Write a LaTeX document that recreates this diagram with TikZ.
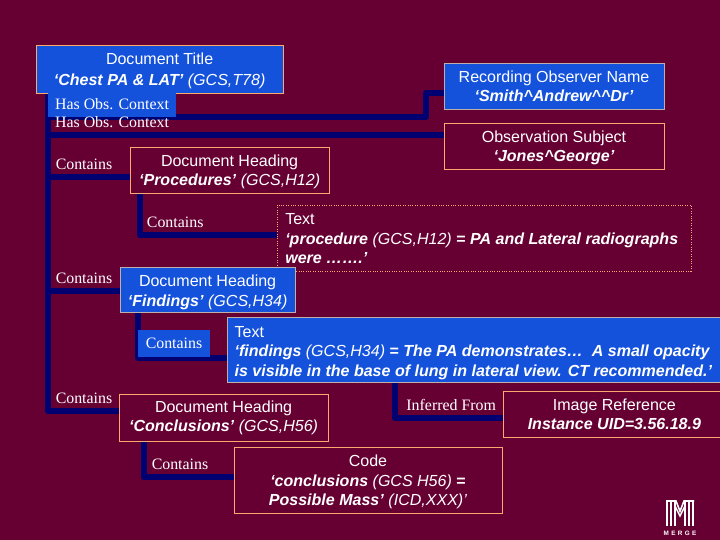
\documentclass[tikz,border=0pt]{standalone}
\usepackage{fontspec}
\setmainfont{Liberation Sans}
\newfontfamily\relfont{Liberation Serif}
\usetikzlibrary{backgrounds}
\definecolor{pagewine}{RGB}{102,0,51}
\definecolor{boxblue}{RGB}{20,82,220}
\definecolor{linknavy}{RGB}{0,0,112}
\definecolor{edgetan}{RGB}{250,170,110}
\definecolor{edgegrey}{RGB}{190,175,170}
\newcommand{\quoted}[1]{\textbf{\textit{#1}}}
\newcommand{\droptop}{\rule{0pt}{11pt}}
\tikzset{
  docbox/.style={draw=edgetan, line width=0.7pt, fill=pagewine, text=white, inner sep=0pt,
    align=center, font=\fontsize{11.4}{13.8}\selectfont},
  bluebox/.style={docbox, draw=edgegrey, fill=boxblue},
  textlines/.style={anchor=west, text=white, inner sep=0pt, align=left,
    font=\fontsize{11.4}{13.9}\selectfont},
  relname/.style={text=white, inner sep=0pt, font=\relfont\fontsize{11.3}{13}\selectfont},
  link/.style={draw=linknavy, line width=4.2pt, line join=round}
}

\begin{document}
\begin{tikzpicture}

% --- Background ---
\begin{scope}[on background layer]
\fill[pagewine] (0,0) rectangle (18,13.5);
\end{scope}
\useasboundingbox (0,0) rectangle (18,13.5);

% --- Boxes ---

% Title
\node[bluebox, draw=edgetan, minimum width=6.175cm, minimum height=1.2cm] (title) at (3.99,11.775)
  {\droptop Document Title\\[1pt]\quoted{‘Chest PA \& LAT’} \textit{(GCS,T78)}};

% Right column
\node[bluebox, minimum width=5.5cm, minimum height=1.15cm] (observer) at (13.85,11.35)
  {Recording Observer Name\\\quoted{‘Smith\^{}Andrew\^{}\^{}Dr’}};
\node[docbox, minimum width=5.5cm, minimum height=1.15cm] (subject) at (13.85,9.85)
  {\droptop Observation Subject\\\quoted{‘Jones\^{}George’}};

% Procedures
\node[docbox, minimum width=4.975cm, minimum height=1.15cm] (procedures) at (5.74,9.25)
  {\droptop Document Heading\\\quoted{‘Procedures’} \textit{(GCS,H12)}};
\node[docbox, densely dotted, minimum width=10.35cm, minimum height=1.65cm] (proctext) at (12.1,7.55) {};
\node[textlines] (proclines) at (7.125,7.525)
  {Text\\\quoted{‘procedure} \textit{(GCS,H12)} \textbf{=} \quoted{PA and Lateral radiographs}\\\quoted{were …….’}};

% Findings
\node[bluebox, minimum width=4.375cm, minimum height=1.125cm] (findings) at (5.19,6.24)
  {\droptop Document Heading\\\quoted{‘Findings’} \textit{(GCS,H34)}};
\node[bluebox, minimum width=12.4cm, minimum height=1.625cm] (findtext) at (11.875,4.74) {};
\node[textlines] (findlines) at (5.86,4.68)
  {Text\\\quoted{‘findings} \textit{(GCS,H34)} \textbf{=} \quoted{The PA demonstrates…\ \ A small opacity}\\\quoted{is visible in the base of lung in lateral view. CT recommended.’}};

% Conclusions
\node[docbox, minimum width=5.225cm, minimum height=1.175cm] (conclusions) at (5.59,3.06)
  {Document Heading\\\quoted{‘Conclusions’} \textit{(GCS,H56)}};
\node[docbox, minimum width=6.7cm, minimum height=1.65cm] (code) at (9.2,1.5)
  {\droptop Code\\\quoted{‘conclusions} \textit{(GCS H56)} \textbf{=}\\\quoted{Possible Mass’} \textit{(ICD,XXX)’}};
\node[docbox, minimum width=5.525cm, minimum height=1.15cm] (imageref) at (15.36,3.15)
  {Image Reference\\\quoted{Instance UID=3.56.18.9}};

% --- Relation labels ---
\node[fill=boxblue, minimum width=3.2cm, minimum height=0.6cm] (obsblue) at (2.8,10.875) {};
\node[relname] (obslabela) at (2.8,10.9) {Has Obs. Context};
\node[relname] (obslabelb) at (2.8,10.45) {Has Obs. Context};
\node[relname] (containsa) at (2.1,9.4) {Contains};
\node[relname] (containsb) at (4.38,7.95) {Contains};
\node[relname] (containsc) at (2.1,6.55) {Contains};
\node[relname, fill=boxblue, minimum width=1.8cm, minimum height=0.675cm] (containsd) at (4.35,4.91) {Contains};
\node[relname] (containse) at (2.1,3.55) {Contains};
\node[relname] (containsf) at (4.5,1.9) {Contains};
\node[relname] (inferred) at (11.28,3.38) {Inferred From};

% --- Logo ---
\foreach \x in {16.675,16.775,16.875,17.125,17.225,17.325}
  \draw[white, line width=1.1pt] (\x,0.975) -- (\x,0.36);
\draw[white, line width=1.1pt] (16.65,0.975) -- (16.9,0.975) -- (17,0.72) -- (17.1,0.975) -- (17.35,0.975);
\draw[white, line width=1.1pt] (16.875,0.85) -- (17,0.6) -- (17.125,0.85);
\node[text=white, inner sep=0pt, font=\bfseries\fontsize{4.5}{5}\selectfont] (logoname) at (17,0.175)
  {M\hspace{1.7pt}E\hspace{1.7pt}R\hspace{1.7pt}G\hspace{1.7pt}E};

% --- Links ---
\begin{scope}[on background layer]
\draw[link] ([xshift=0.3cm]title.south west) |- (conclusions.west |- 0,3.225);
\draw[link] (1.2,10.575) -| (10.65,11.175) -- (observer.west |- 0,11.175);
\draw[link] (1.2,10.125) -- (subject.west |- 0,10.125);
\draw[link] (1.2,9.075) -- (procedures.west |- 0,9.075);
\draw[link] (1.2,6.225) -- (findings.west |- 0,6.225);
\draw[link] ([xshift=0.25cm]procedures.south west) |- (proctext.west |- 0,7.625);
\draw[link] ([xshift=0.45cm]findings.south west) |- (findtext.west |- 0,4.55);
\draw[link] ([xshift=0.625cm]conclusions.south west) |- (code.west |- 0,1.575);
\draw[link] (findtext.south west -| 9.875,0) |- (imageref.west |- 0,3.05);
\end{scope}

\end{tikzpicture}
\end{document}
